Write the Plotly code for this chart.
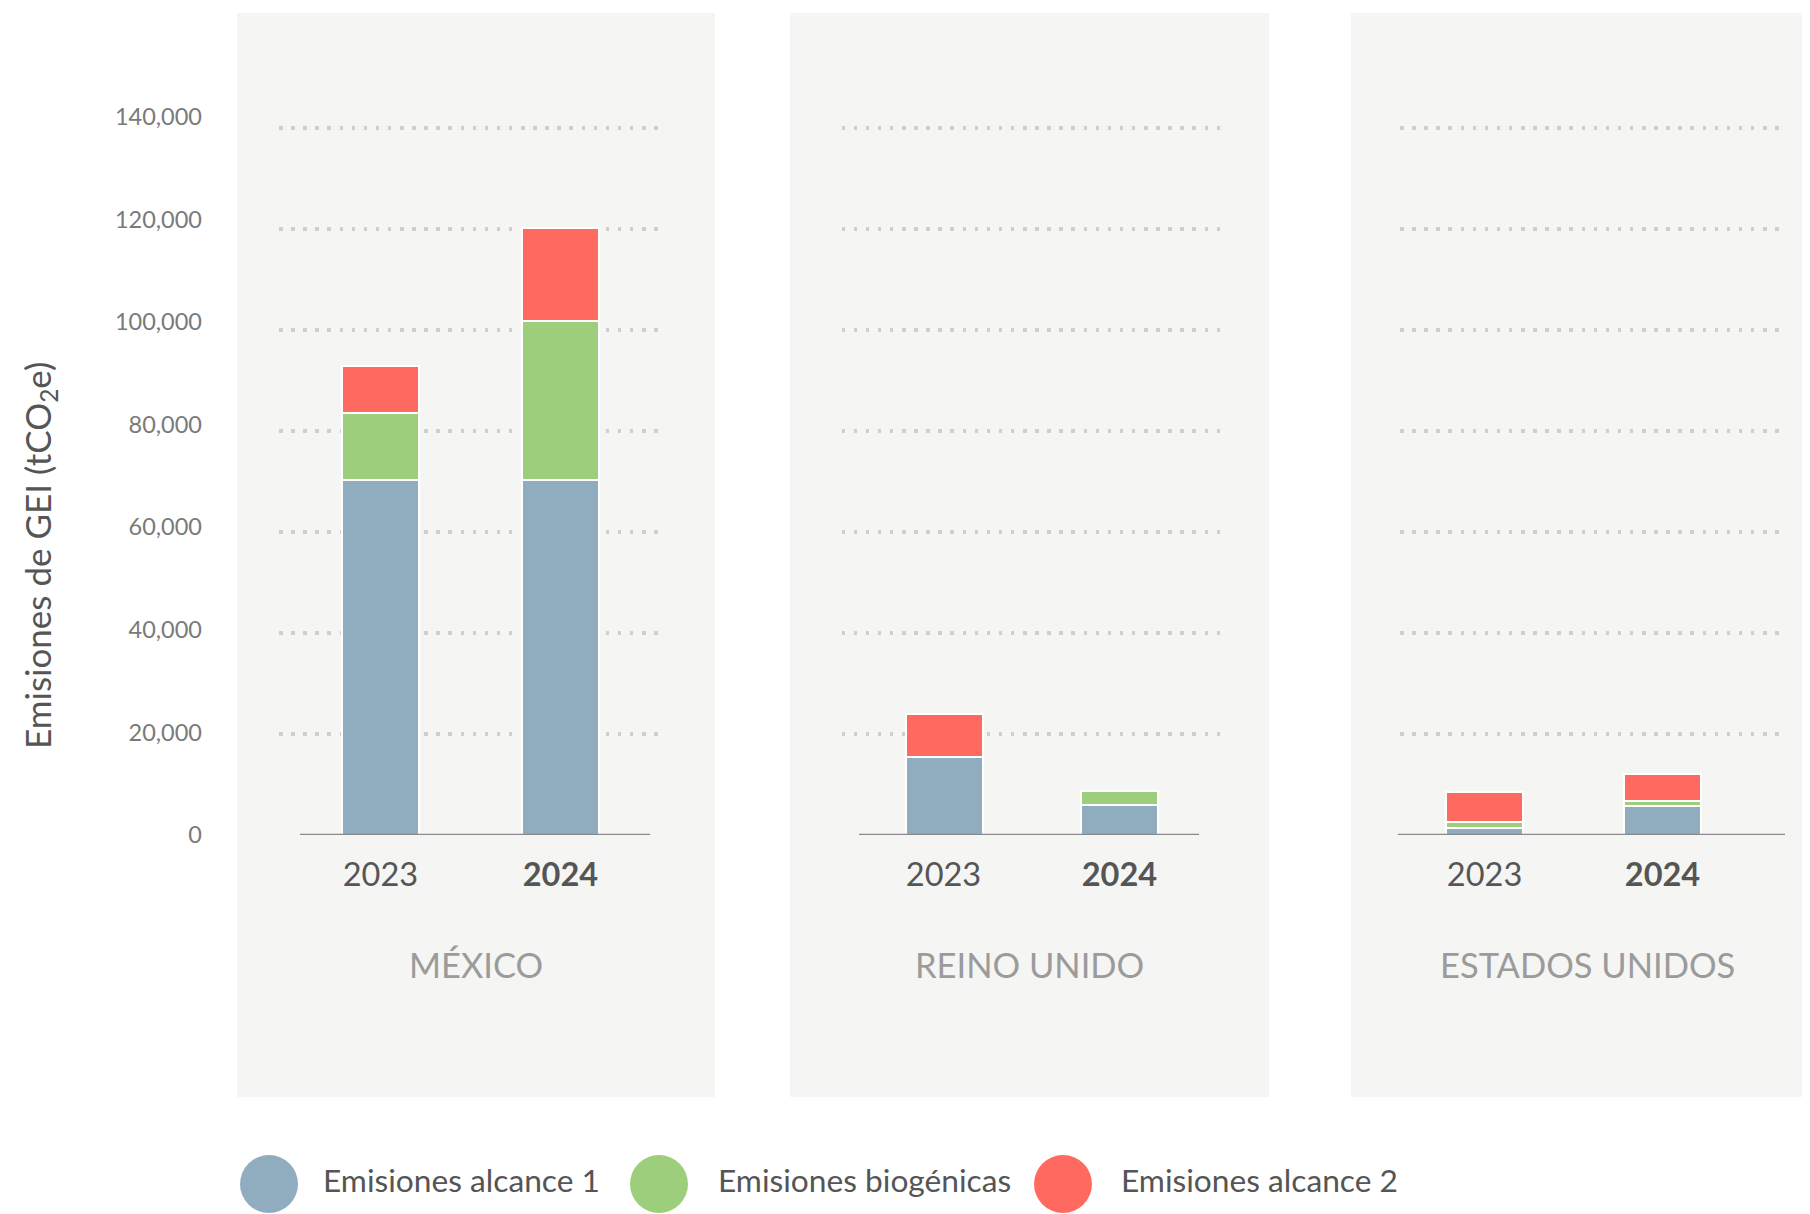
import plotly.graph_objects as go

# ---------------- data ----------------
years = ["2023", "2024"]
year_labels = ["2023", "<b>2024</b>"]
countries = ["MÉXICO", "REINO UNIDO", "ESTADOS UNIDOS"]
series_names = ["Emisiones alcance 1", "Emisiones biogénicas", "Emisiones alcance 2"]
series_colors = ["#90adbf", "#9dce7b", "#ff6a60"]

alcance1_mx = [70300, 70300]
biogenicas_mx = [13300, 31500]
alcance2_mx = [9300, 18400]

alcance1_uk = [15500, 6000]
biogenicas_uk = [0, 2800]
alcance2_uk = [8500, 0]

alcance1_us = [1500, 5800]
biogenicas_us = [1100, 1000]
alcance2_us = [6000, 5400]

y_ticks = [0, 20000, 40000, 60000, 80000, 100000, 120000, 140000]

data_by_country = [
    [alcance1_mx, biogenicas_mx, alcance2_mx],
    [alcance1_uk, biogenicas_uk, alcance2_uk],
    [alcance1_us, biogenicas_us, alcance2_us],
]

# ---------------- layout geometry (screen pixels; page body keeps its 8px margin) ----------------
OFF = 8
W, H = 1810 - OFF, 1214 - OFF


def fx(p):
    return (p - OFF) / W


def fy(p):
    return 1 - (p - OFF) / H


FONT = "Lato"
panel_px = [(237, 715), (790, 1269), (1351, 1830)]
title_cx = [476, 1029.5, 1587]
grid_px = [(279, 664), (841.5, 1226), (1400, 1786)]
xranges = [(-0.563, 1.575), (-0.58, 1.606), (-0.475, 1.694)]
bar_widths = [0.429, 0.438, 0.433]
base_px = [(300, 650), (859, 1199), (1398, 1785)]
BASE_Y, TOP_Y = 835, 102.5
ydom = [fy(BASE_Y), fy(TOP_Y)]
YMAX = 145000
# tick labels sit on a slightly stretched scale (0 at 835px, 140,000 at 116.7px)
LABEL_YMAX = 140000 * (BASE_Y - TOP_Y) / (BASE_Y - 116.7)

fig = go.Figure()

for i, vals in enumerate(data_by_country):
    sfx = "" if i == 0 else str(i + 1)
    for s, name in enumerate(series_names):
        fig.add_trace(go.Bar(
            x=years, y=vals[s], name=name,
            marker=dict(color=series_colors[s], line=dict(color="white", width=2)),
            width=bar_widths[i], xaxis="x" + sfx, yaxis="y" + sfx,
            showlegend=False, hoverinfo="x+y+name",
        ))

# empty helper trace so the tick-label axis gets drawn
fig.add_trace(go.Scatter(x=years, y=[None, None], xaxis="x", yaxis="y4",
                         mode="markers", showlegend=False, hoverinfo="skip"))

layout = dict(
    width=W, height=H,
    margin=dict(l=0, r=0, t=0, b=0, pad=0, autoexpand=False),
    paper_bgcolor="white", plot_bgcolor="rgba(0,0,0,0)",
    barmode="stack", bargap=0,
    font=dict(family=FONT, color="#555555"),
    showlegend=False,
)

shapes = []
annotations = []
for i in range(3):
    sfx = "" if i == 0 else str(i + 1)
    layout["xaxis" + sfx] = dict(
        domain=[fx(grid_px[i][0]), fx(grid_px[i][1])],
        anchor="y" + sfx, type="category", range=list(xranges[i]),
        showgrid=False, zeroline=False, showline=False, ticks="",
        tickvals=years, ticktext=year_labels, automargin=False,
        tickfont=dict(family=FONT, size=32.5, color="#555555"),
        ticklabelstandoff=17, fixedrange=True,
    )
    layout["yaxis" + sfx] = dict(
        domain=ydom, anchor="x" + sfx, range=[0, YMAX],
        tickvals=y_ticks, showticklabels=False, automargin=False,
        showgrid=True, gridcolor="#cfcfcf", gridwidth=3.5, griddash="3.5px,8.6px",
        zeroline=True, zerolinecolor="rgba(0,0,0,0)", zerolinewidth=1,
        showline=False, ticks="", fixedrange=True,
    )
    # panel background
    shapes.append(dict(type="rect", xref="paper", yref="paper",
                       x0=fx(panel_px[i][0]), x1=fx(panel_px[i][1]),
                       y0=fy(1097), y1=fy(13),
                       fillcolor="#f5f5f4", line=dict(width=0), layer="below"))
    # baseline
    shapes.append(dict(type="line", xref="paper", yref="y" + sfx,
                       x0=fx(base_px[i][0]), x1=fx(base_px[i][1]), y0=0, y1=0,
                       line=dict(color="#8a8a8a", width=2.5), layer="above"))
    # panel title
    annotations.append(dict(text=countries[i], xref="paper", yref="paper",
                            x=fx(title_cx[i]), y=fy(964),
                            xanchor="center", yanchor="middle", showarrow=False,
                            font=dict(family=FONT, size=34.5, color="#9b9b9b")))

# y tick label axis
layout["yaxis4"] = dict(
    domain=ydom, anchor="x", overlaying="y", side="left", range=[0, LABEL_YMAX],
    tickvals=y_ticks, tickformat=",", showgrid=False, zeroline=False, showline=False,
    ticks="", tickfont=dict(family=FONT, size=23.5, color="#7a7a7a"), automargin=False,
    ticklabelstandoff=76, fixedrange=True,
)

# y-axis title
annotations.append(dict(text="Emisiones de GEI (tCO<sub>2</sub>e)", xref="paper", yref="paper",
                        x=fx(40), y=fy(556), textangle=-90, showarrow=False,
                        xanchor="center", yanchor="middle",
                        font=dict(family=FONT, size=35, color="#555555")))

# manual legend (large circle swatches)
legend_cx = [269, 659, 1063]
legend_tx = [321, 716, 1119]
r = 29
for k, name in enumerate(series_names):
    shapes.append(dict(type="circle", xref="paper", yref="paper",
                       x0=fx(legend_cx[k] - r), x1=fx(legend_cx[k] + r),
                       y0=fy(1184 + r), y1=fy(1184 - r),
                       fillcolor=series_colors[k], line=dict(width=0)))
    annotations.append(dict(text=name, xref="paper", yref="paper",
                            x=fx(legend_tx[k]), y=fy(1180), xanchor="left", yanchor="middle",
                            showarrow=False, font=dict(family=FONT, size=31.7, color="#555555")))

layout["shapes"] = shapes
layout["annotations"] = annotations
fig.update_layout(**layout)

fig.write_html("out.html", config={"displayModeBar": False})
